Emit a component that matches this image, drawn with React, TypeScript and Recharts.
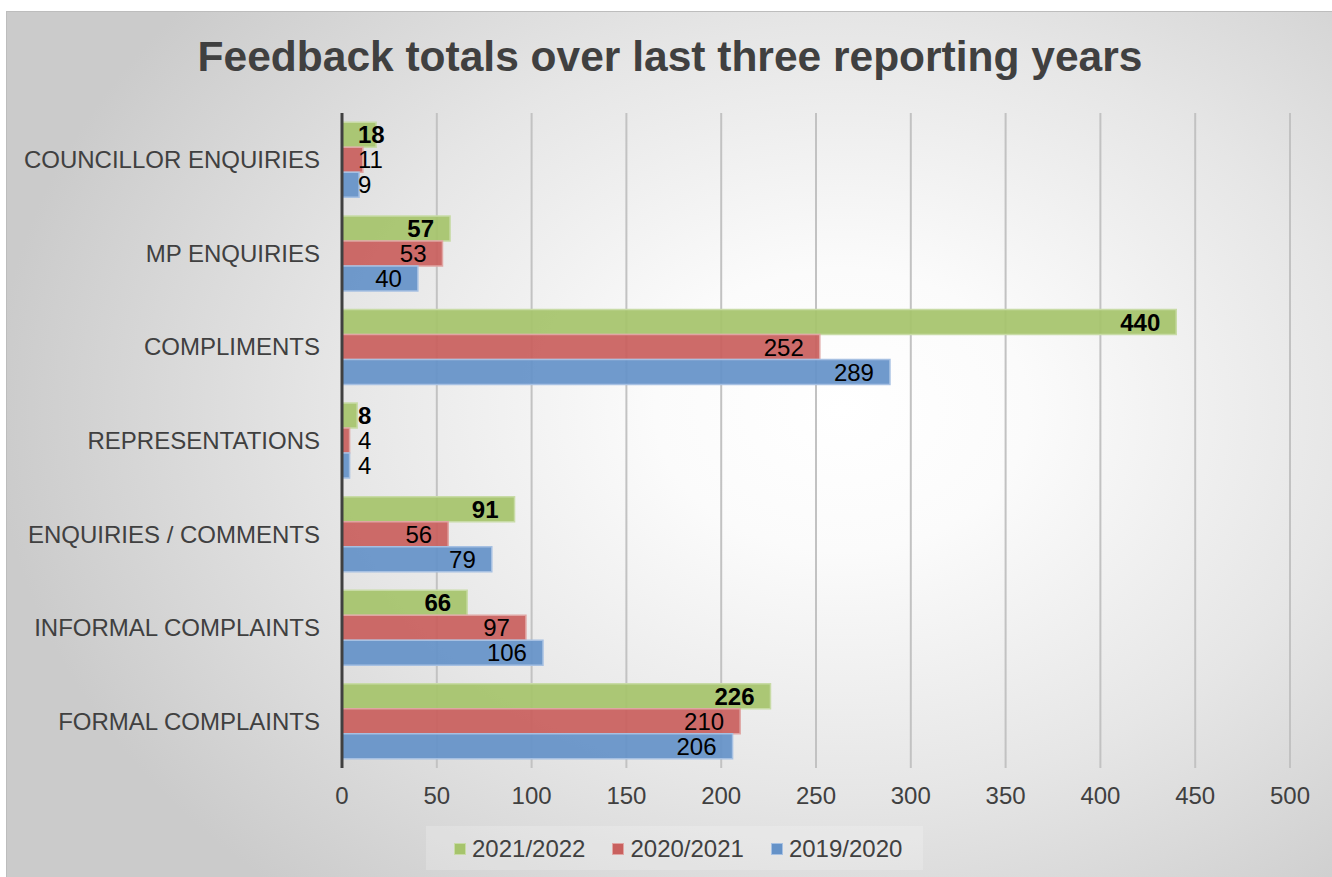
import React from "react";
import { BarChart, Bar, XAxis, YAxis, CartesianGrid, LabelList } from "recharts";

const categories = [
  "COUNCILLOR ENQUIRIES",
  "MP ENQUIRIES",
  "COMPLIMENTS",
  "REPRESENTATIONS",
  "ENQUIRIES / COMMENTS",
  "INFORMAL COMPLAINTS",
  "FORMAL COMPLAINTS",
];
const y2122 = [18, 57, 440, 8, 91, 66, 226];
const y2021 = [11, 53, 252, 4, 56, 97, 210];
const y1920 = [9, 40, 289, 4, 79, 106, 206];
const xTicks = [0, 50, 100, 150, 200, 250, 300, 350, 400, 450, 500];
const seriesNames = ["2021/2022", "2020/2021", "2019/2020"];

const data = categories.map((c, i) => ({
  name: c,
  a: y2122[i],
  b: y2021[i],
  c: y1920[i],
}));

const FONT = '"Liberation Sans", Arial, sans-serif';
const series = [
  { key: "a", name: seriesNames[0], fill: "#A6C46C", stroke: "#C8DBA6", bold: true },
  { key: "b", name: seriesNames[1], fill: "#C9605E", stroke: "#E0A5A3", bold: false },
  { key: "c", name: seriesNames[2], fill: "#6592C8", stroke: "#A6C0E2", bold: false },
];

const makeLabel = (bold: boolean) => (props: any) => {
  const { x, y, width, height, value } = props;
  const fs = 24;
  const tw = String(value).length * 0.556 * fs;
  const inset = 16;
  let tx: number;
  let anchor: "start" | "end";
  if (width - 2 * inset < tw) {
    tx = x + inset;
    anchor = "start";
  } else {
    tx = x + width - inset;
    anchor = "end";
  }
  return (
    <text
      x={tx}
      y={y + height / 2}
      textAnchor={anchor}
      dominantBaseline="central"
      fill="#000"
      fontSize={fs}
      fontWeight={bold ? "bold" : "normal"}
      fontFamily={FONT}
    >
      {value}
    </text>
  );
};

export default function App() {
  return (
    <div
      style={{
        position: "absolute",
        left: 6,
        top: 11,
        width: 1326,
        height: 866,
        borderTop: "1px solid #bdbdbd",
        borderLeft: "1px solid #bdbdbd",
        boxSizing: "border-box",
        background:
          "radial-gradient(ellipse 64% 74% at 63% 46%, #ffffff 0%, #fbfbfb 22%, #e6e6e6 60%, #cbcbcb 100%)",
        fontFamily: FONT,
      }}
    >
      <div
        style={{
          position: "absolute",
          left: 0,
          width: 1326,
          top: 24,
          lineHeight: "42px",
          textAlign: "center",
          fontSize: 42.5,
          fontWeight: "bold",
          color: "#404040",
          whiteSpace: "nowrap",
        }}
      >
        Feedback totals over last three reporting years
      </div>
      <div style={{ position: "absolute", left: -1, top: -1 }}>
        <BarChart
          width={1326}
          height={866}
          data={data}
          layout="vertical"
          margin={{ top: 102, right: 42, bottom: 69, left: 0 }}
          barCategoryGap="10%"
          barGap={0}
        >
          <CartesianGrid
            horizontal={false}
            vertical={true}
            stroke="#c2c2c2"
            strokeWidth={2}
          />
          <XAxis
            type="number"
            domain={[0, 500]}
            ticks={xTicks}
            interval={0}
            axisLine={false}
            tickLine={false}
            tickSize={0}
            tickMargin={19}
            height={40}
            tick={{ fill: "#404040", fontSize: 24, fontFamily: FONT }}
          />
          <YAxis
            type="category"
            dataKey="name"
            width={336}
            interval={0}
            axisLine={{ stroke: "#404040", strokeWidth: 3 }}
            tickLine={false}
            tickSize={0}
            tickMargin={22}
            tick={{ fill: "#404040", fontSize: 24, fontFamily: FONT }}
          />
          {series.map((s) => (
            <Bar
              key={s.key}
              dataKey={s.key}
              name={s.name}
              fill={s.fill}
              fillOpacity={0.93}
              stroke={s.stroke}
              strokeWidth={1.5}
              isAnimationActive={false}
            >
              <LabelList dataKey={s.key} content={makeLabel(s.bold)} />
            </Bar>
          ))}
        </BarChart>
      </div>
      <div
        style={{
          position: "absolute",
          left: 419,
          top: 814,
          width: 497,
          height: 44,
          background: "rgba(255,255,255,0.2)",
        }}
      />
      <div
        style={{
          position: "absolute",
          left: 447,
          top: 825,
          height: 24,
          display: "flex",
          alignItems: "center",
          fontSize: 24,
          color: "#404040",
          lineHeight: "24px",
          whiteSpace: "nowrap",
        }}
      >
        {series.map((s, i) => (
          <div
            key={s.key}
            style={{ display: "flex", alignItems: "center", marginRight: i < 2 ? 27 : 0 }}
          >
            <div
              style={{
                width: 10,
                height: 10,
                background: s.fill,
                border: `1px solid ${s.stroke}`,
                marginRight: 6,
              }}
            />
            <span>{s.name}</span>
          </div>
        ))}
      </div>
    </div>
  );
}
